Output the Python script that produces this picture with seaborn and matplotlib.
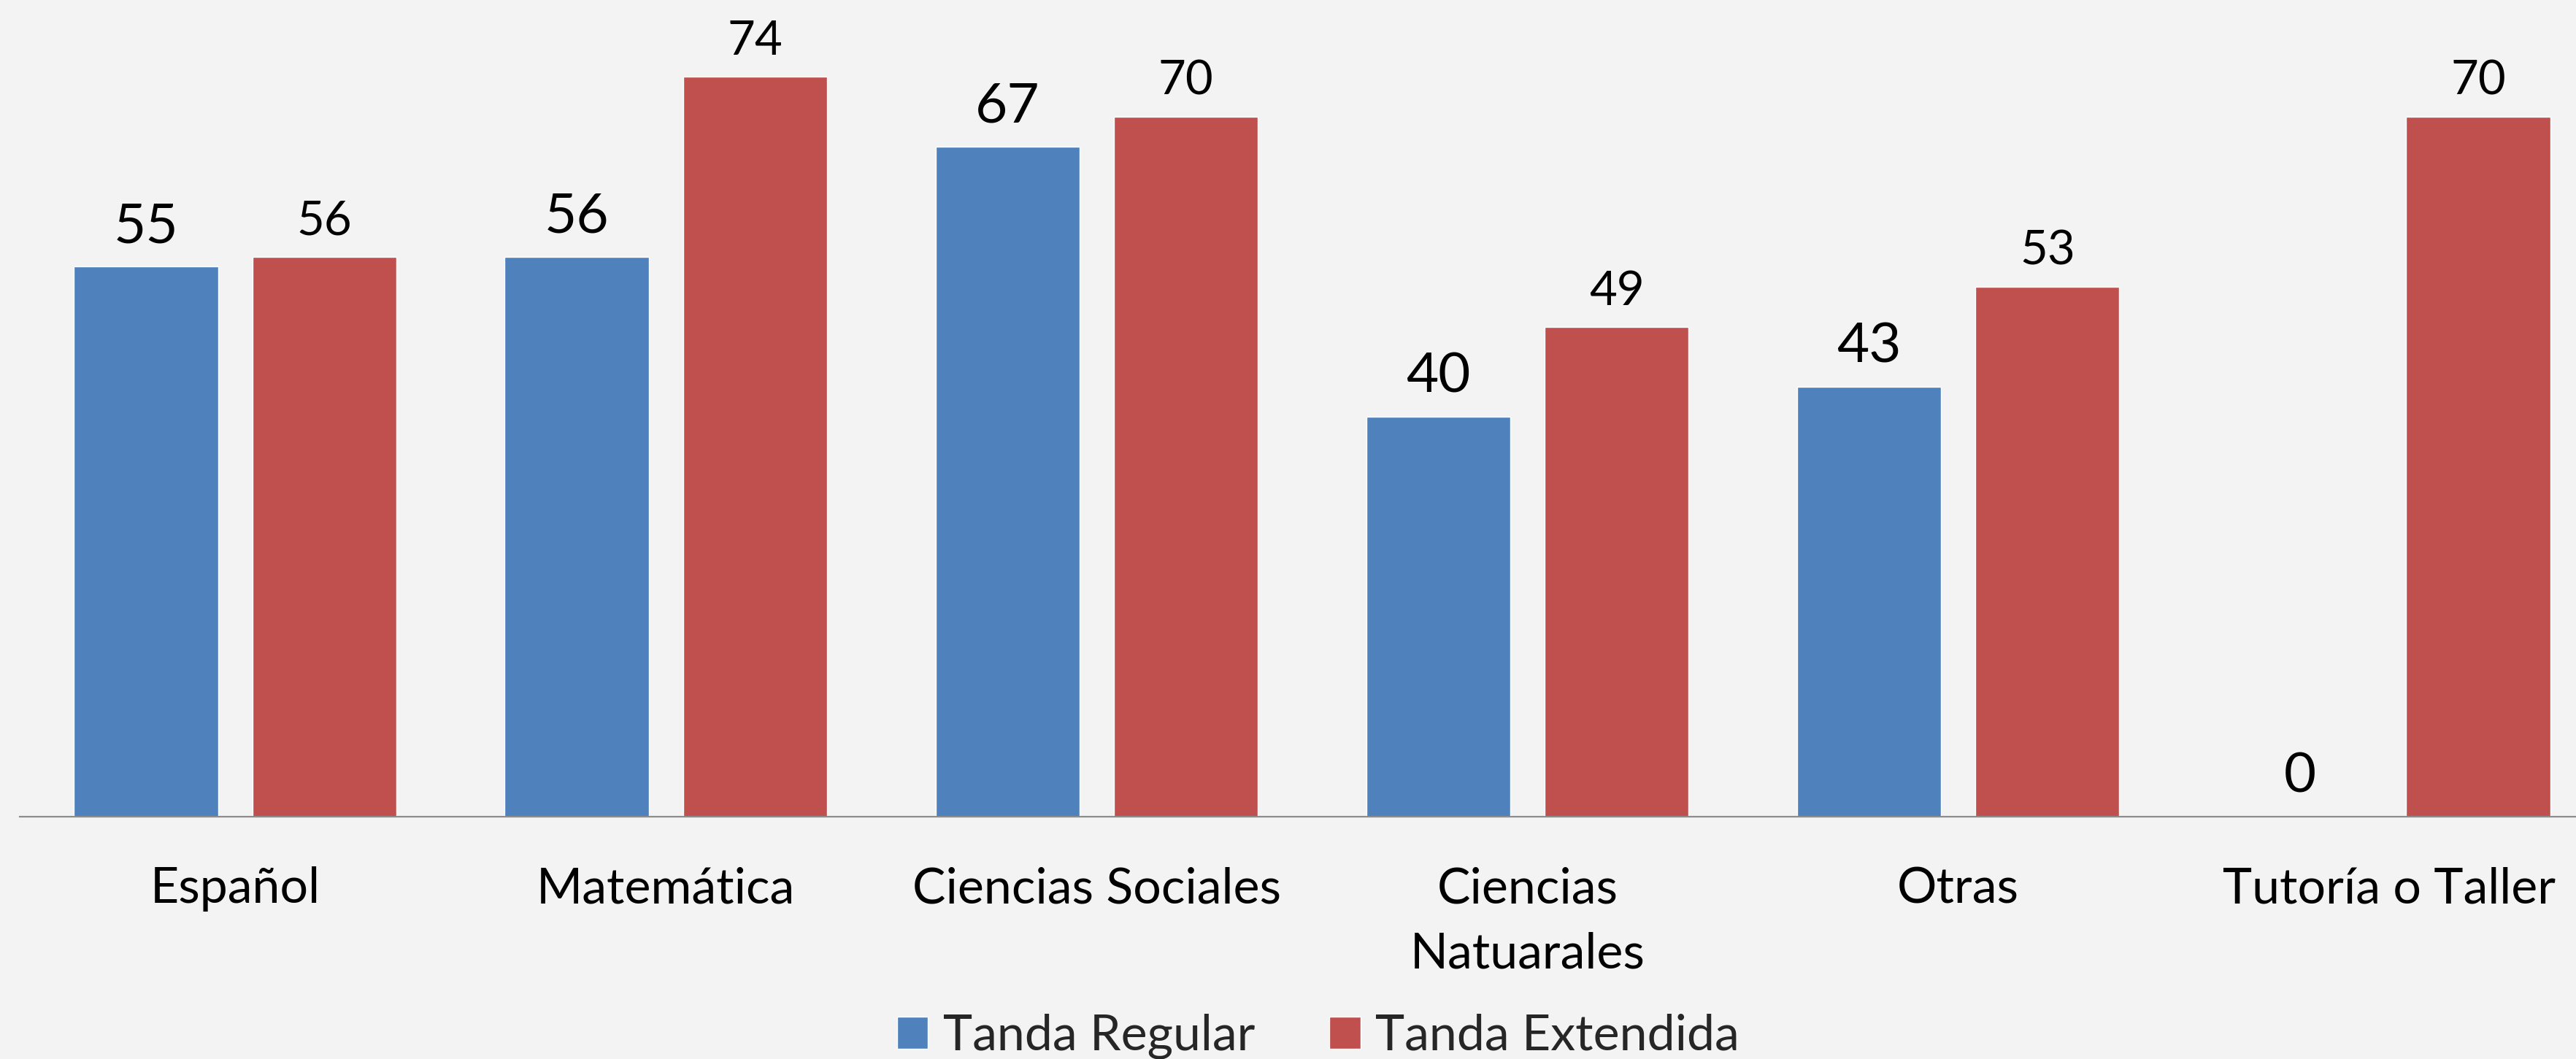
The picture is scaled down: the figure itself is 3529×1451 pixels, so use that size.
import matplotlib
matplotlib.use("Agg")
import matplotlib.pyplot as plt
import seaborn as sns
import pandas as pd

categories = ["Español", "Matemática", "Ciencias Sociales", "Ciencias\nNatuarales", "Otras", "Tutoría o Taller"]
series_names = ["Tanda Regular", "Tanda Extendida"]
tanda_regular = [55, 56, 67, 40, 43, 0]
tanda_extendida = [56, 74, 70, 49, 53, 70]
colors = ["#4f81bd", "#c0504d"]
bg = "#f3f3f3"

df = pd.DataFrame({
    "Categoria": categories * 2,
    "Serie": [series_names[0]] * len(categories) + [series_names[1]] * len(categories),
    "Valor": tanda_regular + tanda_extendida,
})

sns.set_theme(style="white")
plt.rcParams["font.family"] = ["Lato", "DejaVu Sans"]

W, H = 3529, 1451
fig = plt.figure(figsize=(W / 100, H / 100), dpi=100, facecolor=bg)
base_y = 1119
ax = fig.add_axes([27 / W, 1 - base_y / H, (W - 27) / W, base_y / H])
ax.set_facecolor(bg)

sns.barplot(data=df, x="Categoria", y="Valor", hue="Serie", order=categories,
            hue_order=series_names, palette=colors, width=0.828, gap=0.193,
            saturation=1, ax=ax, legend=True, errorbar=None)

ax.set_xlim(-0.5, 5.434)
ax.set_ylim(0, 81.66)
ax.set_xlabel("")
ax.set_ylabel("")
ax.set_yticks([])
for s in ["left", "right", "top"]:
    ax.spines[s].set_visible(False)
ax.spines["bottom"].set_color("#8c8c8c")
ax.spines["bottom"].set_linewidth(1.6)
ax.tick_params(axis="x", length=0, pad=49, labelsize=49, colors="black")
for t in ax.get_xticklabels():
    t.set_linespacing(1.55)

sizes = [55, 47]
pads = [33, 30]
for cont, fs, pd_ in zip(ax.containers, sizes, pads):
    for p in cont.patches:
        x = p.get_x() + p.get_width() / 2
        y = p.get_height()
        ax.annotate(f"{int(round(y))}", (x, y), xytext=(0, pd_ * 0.72),
                    textcoords="offset points", ha="center", va="baseline",
                    fontsize=fs, color="black")

handles, labels = ax.get_legend_handles_labels()
ax.get_legend().remove()
fig.legend(handles, labels, loc="center", bbox_to_anchor=(1806 / W, 1 - 1420 / H),
           ncol=2, frameon=False, fontsize=49, handlelength=0.62, handleheight=0.62,
           handletextpad=0.3, columnspacing=1.5, borderpad=0)

fig.savefig("out.png", dpi=100, facecolor=bg)
